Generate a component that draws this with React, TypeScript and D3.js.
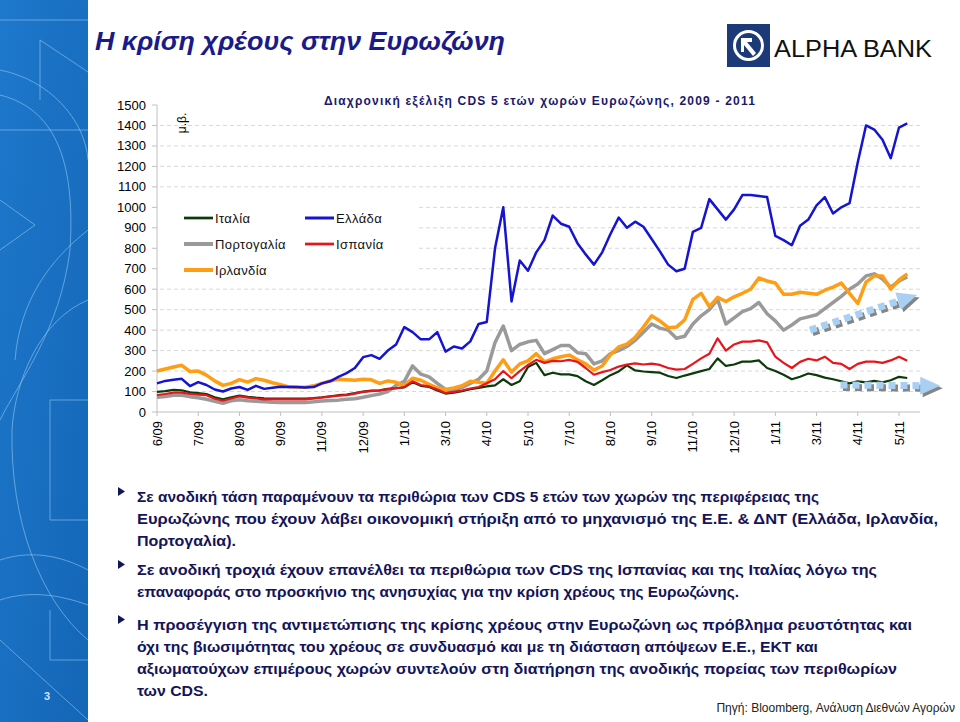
import * as d3 from 'd3';

// x-axis labels, one every 5 observations
const tickLabels = ['6/09', '7/09', '8/09', '9/09', '11/09', '12/09', '1/10', '3/10', '4/10', '5/10',
  '7/10', '8/10', '9/10', '11/10', '12/10', '1/11', '3/11', '4/11', '5/11'];

const yTicks = d3.range(0, 1501, 100);

// CDS 5y spreads, bp
const greece = [140, 152, 158, 162, 127, 146, 132, 110, 100, 115, 122, 108, 128, 113, 118, 123, 122, 122, 120, 122,
  140, 150, 172, 190, 215, 268, 278, 260, 300, 330, 415, 390, 355, 355, 390, 295, 320, 310, 345, 430,
  440, 800, 1000, 540, 740, 690, 780, 840, 960, 920, 905, 825, 770, 720, 780, 870, 950, 900, 930, 905,
  845, 785, 720, 688, 700, 880, 900, 1040, 990, 940, 990, 1060, 1060, 1055, 1050, 860, 840, 815, 910, 940,
  1010, 1050, 970, 1000, 1020, 1220, 1400, 1380, 1330, 1240, 1390, 1410];

const ireland = [200, 210, 220, 228, 198, 200, 180, 152, 130, 140, 158, 146, 163, 155, 143, 133, 123, 121, 121, 128,
  140, 152, 160, 158, 155, 160, 157, 140, 152, 145, 130, 165, 155, 135, 118, 110, 118, 128, 150, 145,
  140, 200, 255, 195, 235, 250, 285, 245, 260, 270, 278, 255, 235, 205, 225, 280, 318, 332, 365, 415,
  470, 445, 412, 415, 450, 550, 580, 515, 560, 540, 563, 580, 600, 655, 640, 630, 575, 575, 585, 580,
  575, 595, 610, 630, 580, 530, 635, 665, 665, 600, 645, 675];

const portugal = [72, 76, 82, 82, 75, 70, 62, 52, 43, 55, 60, 55, 52, 50, 48, 47, 47, 47, 47, 50,
  54, 56, 58, 62, 65, 72, 80, 88, 100, 130, 150, 225, 185, 172, 140, 110, 106, 120, 140, 160,
  200, 340, 420, 300, 330, 343, 350, 285, 305, 325, 325, 290, 285, 235, 250, 285, 300, 320, 350, 390,
  430, 410, 400, 360, 370, 430, 470, 500, 550, 430, 460, 490, 505, 535, 480, 445, 400, 425, 455, 465,
  475, 505, 535, 565, 600, 625, 665, 675, 650, 610, 640, 660];

const spain = [83, 88, 95, 95, 88, 85, 82, 65, 55, 66, 76, 70, 66, 62, 62, 62, 62, 62, 62, 66,
  70, 75, 80, 82, 90, 98, 102, 105, 112, 116, 122, 150, 132, 125, 110, 93, 98, 105, 115, 122,
  140, 160, 200, 165, 200, 230, 255, 240, 250, 248, 255, 245, 215, 182, 195, 205, 222, 232, 238, 232,
  236, 230, 215, 207, 210, 235, 262, 285, 360, 300, 330, 344, 344, 350, 340, 270, 240, 215, 245, 260,
  252, 270, 240, 235, 210, 235, 246, 246, 240, 252, 270, 250];

const italy = [98, 102, 108, 106, 96, 92, 88, 72, 62, 72, 80, 74, 70, 67, 66, 65, 65, 65, 65, 68,
  72, 77, 82, 85, 92, 100, 104, 106, 113, 116, 120, 145, 128, 122, 105, 90, 95, 102, 112, 118,
  125, 130, 160, 132, 150, 220, 240, 180, 192, 184, 184, 175, 150, 132, 155, 180, 198, 228, 203, 198,
  195, 192, 176, 166, 178, 189, 200, 210, 262, 225, 232, 246, 246, 252, 215, 200, 182, 160, 172, 188,
  180, 168, 160, 150, 140, 150, 145, 152, 145, 155, 172, 166];

const series = [
  { name: 'Πορτογαλία', data: portugal, color: '#9a9a9a', width: 3.5 },
  { name: 'Ιρλανδία', data: ireland, color: '#ff9d14', width: 3.5 },
  { name: 'Ελλάδα', data: greece, color: '#1414d2', width: 2.5 },
  { name: 'Ιταλία', data: italy, color: '#0b3b0b', width: 2.2 },
  { name: 'Ισπανία', data: spain, color: '#e8141c', width: 2.2 },
];

const legendRows = [
  { name: 'Ιταλία', col: 0, row: 0 },
  { name: 'Πορτογαλία', col: 0, row: 1 },
  { name: 'Ιρλανδία', col: 0, row: 2 },
  { name: 'Ελλάδα', col: 1, row: 0 },
  { name: 'Ισπανία', col: 1, row: 1 },
];

const bullets = [
  ['Σε ανοδική τάση παραμένουν τα περιθώρια των CDS 5 ετών των χωρών της περιφέρειας της',
    'Ευρωζώνης που έχουν λάβει οικονομική στήριξη από το μηχανισμό της Ε.Ε. & ΔΝΤ (Ελλάδα, Ιρλανδία,',
    'Πορτογαλία).'],
  ['Σε ανοδική τροχιά έχουν επανέλθει τα περιθώρια των CDS της Ισπανίας και της Ιταλίας λόγω της',
    'επαναφοράς στο προσκήνιο της ανησυχίας για την κρίση χρέους της Ευρωζώνης.'],
  ['Η προσέγγιση της αντιμετώπισης της κρίσης χρέους στην Ευρωζώνη ως πρόβλημα ρευστότητας  και',
    'όχι της βιωσιμότητας του χρέους σε συνδυασμό και με τη διάσταση απόψεων Ε.Ε., ΕΚΤ και',
    'αξιωματούχων επιμέρους χωρών συντελούν στη διατήρηση της ανοδικής πορείας των περιθωρίων',
    'των CDS.'],
];
// right edge of each line in the original slide
const bulletEnds = [[819, 938, 236], [877, 739], [912, 818, 897, 208]];
const bulletTops = [502, 575, 630];

// trend arrows, in data units (index, bp)
const arrows = [
  { from: [79.2, 400], to: [92.2, 572] },
  { from: [82.9, 132], to: [95, 128] },
];

const font = 'Liberation Sans, Arial, sans-serif';
const navy = '#14145a';

function Arrow({ x1, y1, x2, y2, dx = 0, dy = 0, color }: any) {
  const ang = Math.atan2(y2 - y1, x2 - x1);
  const hl = 20, hw = 9;
  const bx = x2 - hl * Math.cos(ang), by = y2 - hl * Math.sin(ang);
  const nx = -Math.sin(ang), ny = Math.cos(ang);
  const head = `M${x2},${y2}L${bx + nx * hw},${by + ny * hw}L${bx - nx * hw},${by - ny * hw}Z`;
  return (
    <g transform={`translate(${dx},${dy})`}>
      <line x1={x1} y1={y1} x2={bx} y2={by} stroke={color} strokeWidth={7} strokeDasharray="7 5" />
      <path d={head} fill={color} />
    </g>
  );
}

export default function App() {
  const x = d3.scaleLinear().domain([0, 90]).range([157, 899]);
  const y = d3.scaleLinear().domain([0, 1500]).range([412, 105]);
  const line = d3.line<number>().x((_, i) => x(i)).y(d => y(d));
  const colorOf = (n: string) => series.find(s => s.name === n)!;

  return (
    <svg width={960} height={722} style={{ position: 'absolute', left: 0, top: 0, background: '#fff' }}
      fontFamily={font}>
      <defs>
        <linearGradient id="bar" x1="0" y1="0" x2="1" y2="1">
          <stop offset="0%" stopColor="#1e78cc" />
          <stop offset="100%" stopColor="#1466b6" />
        </linearGradient>
      </defs>

      {/* left decorative band */}
      <rect x={0} y={0} width={88} height={722} fill="url(#bar)" />
      <g fill="none" stroke="#9fd0f5" strokeOpacity={0.55} strokeWidth={1}>
        <path d="M0,20H88" />
        <path d="M40,40L88,72" />
        <path d="M40,40V100" />
        <path d="M0,70C50,80 85,120 88,160" />
        <path d="M0,95C60,110 75,170 70,250C60,330 20,380 0,420" />
        <path d="M0,130H88" />
        <path d="M0,200L35,225L0,250" />
        <path d="M88,230C50,260 20,300 15,360" />
        <path d="M88,300C40,320 15,380 12,430C10,520 40,600 88,640" />
        <path d="M50,400H88" />
        <path d="M50,400V520H88" />
        <path d="M0,560C30,550 60,555 88,570" />
        <path d="M0,600C30,590 60,595 88,605" />
        <path d="M50,610V660H88" />
        <path d="M0,640L88,720" />
      </g>
      <text x={47} y={700} textAnchor="middle" fontSize={11} fontWeight="bold" fill="#cfe3f6">3</text>

      {/* header */}
      <text x={95} y={50} fontSize={25} fontStyle="italic" fontWeight="bold" fill="#1a1a8a" textLength={410}
        lengthAdjust="spacingAndGlyphs">Η κρίση χρέους στην Ευρωζώνη</text>
      <rect x={727} y={24} width={43} height={43} fill="#1d3a78" />
      <circle cx={748.5} cy={45.5} r={14} fill="none" stroke="#fff" strokeWidth={3} />
      <path d="M741,38L752,38L752,42L747,42L756,53L753,56L744,45L744,52L741,52Z" fill="#fff" />
      <text x={774} y={57} fontSize={23} fill="#111" textLength={158} lengthAdjust="spacingAndGlyphs">ALPHA BANK</text>

      {/* grid */}
      <g stroke="#d8d8d8" strokeDasharray="4 3">
        {yTicks.filter(t => t > 0 && t < 1500).map(t => (
          <line key={t} x1={160} x2={920} y1={y(t)} y2={y(t)} />
        ))}
      </g>
      {/* axes */}
      <line x1={157} x2={157} y1={y(1500)} y2={y(0)} stroke="#c0c0c0" />
      <line x1={157} x2={920} y1={y(0)} y2={y(0)} stroke="#c0c0c0" />
      {yTicks.map(t => (
        <g key={t}>
          <line x1={152} x2={157} y1={y(t)} y2={y(t)} stroke="#c0c0c0" />
          <text x={146} y={y(t)} dy="0.35em" textAnchor="end" fontSize={13} fill="#000">{t}</text>
        </g>
      ))}
      {tickLabels.map((l, k) => {
        const px = x(k * 5);
        return (
          <g key={l}>
            <line x1={px} x2={px} y1={y(0)} y2={y(0) + 4} stroke="#c0c0c0" />
            <text transform={`translate(${px},${y(0) + 9}) rotate(-90)`} dy="0.35em" textAnchor="end"
              fontSize={13} fill="#000">{l}</text>
          </g>
        );
      })}

      {/* chart title and unit */}
      <text x={540} y={105} textAnchor="middle" fontSize={12} fontWeight="bold" fill="#1a1a6e"
        letterSpacing={1.2}>Διαχρονική εξέλιξη CDS 5 ετών χωρών Ευρωζώνης, 2009 - 2011</text>
      <text transform="translate(186,123) rotate(-90)" textAnchor="middle" fontSize={12} fill="#000">μ.β.</text>

      {/* legend */}
      <rect x={160} y={199} width={257} height={85} fill="#fff" />
      {legendRows.map(r => {
        const s = colorOf(r.name);
        const lx = r.col === 0 ? 184 : 305;
        const ly = 218 + r.row * 26;
        return (
          <g key={r.name}>
            <line x1={lx} x2={lx + 29} y1={ly} y2={ly} stroke={s.color} strokeWidth={s.width + 0.5} />
            <text x={lx + 31} y={ly} dy="0.35em" fontSize={13} fill="#111" letterSpacing={0.4}>{r.name}</text>
          </g>
        );
      })}

      {/* series */}
      {series.map(s => (
        <path key={s.name} d={line(s.data)!} fill="none" stroke={s.color} strokeWidth={s.width}
          strokeLinejoin="round" />
      ))}

      {/* trend arrows */}
      {arrows.map((a, k) => {
        const p = { x1: x(a.from[0]), y1: y(a.from[1]), x2: x(a.to[0]), y2: y(a.to[1]) };
        return (
          <g key={k}>
            <Arrow {...p} dx={2.5} dy={2.5} color="#858585" />
            <Arrow {...p} color="#a9d0f2" />
          </g>
        );
      })}

      {/* commentary */}
      {bullets.map((lines, b) => (
        <g key={b}>
          <path d={`M118,${bulletTops[b] - 15}L125,${bulletTops[b] - 10.5}L118,${bulletTops[b] - 6}Z`} fill={navy} />
          {lines.map((t, j) => (
            <text key={j} x={137} y={bulletTops[b] + j * 22} fontSize={14.5} fontWeight="bold" fill={navy}
              textLength={bulletEnds[b][j] - 137} lengthAdjust="spacingAndGlyphs">{t}</text>
          ))}
        </g>
      ))}
      <text x={955} y={712} textAnchor="end" fontSize={12} fill="#222">Πηγή: Bloomberg,  Ανάλυση Διεθνών Αγορών</text>
    </svg>
  );
}
